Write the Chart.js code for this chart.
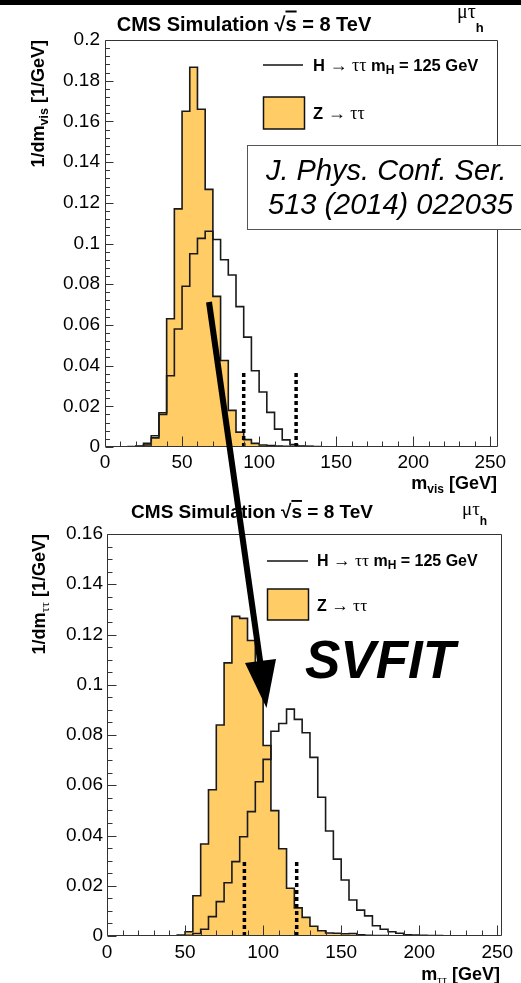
<!DOCTYPE html>
<html><head><meta charset="utf-8">
<script src="https://cdn.jsdelivr.net/npm/chart.js@4.4.1/dist/chart.umd.min.js"></script>
<style>
html,body{margin:0;padding:0;background:#fff;}
#wrap{position:relative;width:521px;height:983px;overflow:hidden;background:#fff;}
canvas{position:absolute;left:0;}
#c1{top:0;width:521px;height:500px;}
#c2{top:490px;width:521px;height:493px;}
#ov{position:absolute;left:0;top:0;}
</style></head><body>
<div id="wrap">
<canvas id="c1" width="521" height="500"></canvas>
<canvas id="c2" width="521" height="493"></canvas>
<svg id="ov" width="521" height="983" viewBox="0 0 521 983" font-family="Liberation Sans, Arial, sans-serif">
  <rect x="0" y="0" width="521" height="5" fill="#000"/>
  <!-- top panel header -->
  <text x="244" y="30.5" text-anchor="middle" font-size="20" font-weight="bold">CMS Simulation √<tspan style="text-decoration:overline">s</tspan> = 8 TeV</text>
  <text x="457" y="18"><tspan font-family="Liberation Serif, serif" font-size="20">μτ</tspan><tspan dy="13.5" font-size="13" font-weight="bold">h</tspan></text>
  <!-- top legend -->
  <line x1="263" y1="65" x2="303" y2="65" stroke="#111" stroke-width="1.5"/>
  <text x="313" y="70.5" font-size="16.5" font-weight="bold">H <tspan font-family="Liberation Serif, serif" font-weight="normal" font-size="18">→ ττ</tspan> m<tspan font-size="12" dy="3">H</tspan><tspan dy="-3"> = 125 GeV</tspan></text>
  <rect x="263.5" y="97" width="41" height="32" fill="#FFCC66" stroke="#111" stroke-width="1.5"/>
  <text x="313" y="118.5" font-size="16.5" font-weight="bold">Z <tspan font-family="Liberation Serif, serif" font-weight="normal" font-size="18">→ ττ</tspan></text>
  <!-- top axis titles -->
  <text transform="translate(44,40) rotate(-90)" text-anchor="end" font-size="18" font-weight="bold">1/dm<tspan font-size="12.5" dy="3.5">vis</tspan><tspan dy="-3.5"> [1/GeV]</tspan></text>
  <text x="497" y="489" text-anchor="end" font-size="18" font-weight="bold">m<tspan font-size="12" dy="4">vis</tspan><tspan dy="-4"> [GeV]</tspan></text>
  <!-- reference box -->
  <rect x="247.5" y="145.5" width="290" height="84" fill="#fff" stroke="#555" stroke-width="1"/>
  <text x="266" y="180" font-size="29" font-style="italic">J. Phys. Conf. Ser.</text>
  <text x="268" y="214" font-size="29" font-style="italic">513 (2014) 022035</text>
  <!-- bottom panel header -->
  <text x="252" y="518" text-anchor="middle" font-size="19" font-weight="bold">CMS Simulation √<tspan style="text-decoration:overline">s</tspan> = 8 TeV</text>
  <text x="462" y="515"><tspan font-family="Liberation Serif, serif" font-size="19">μτ</tspan><tspan dy="10" font-size="12" font-weight="bold">h</tspan></text>
  <!-- bottom legend -->
  <line x1="267" y1="561" x2="308" y2="561" stroke="#111" stroke-width="1.5"/>
  <text x="317" y="566" font-size="16" font-weight="bold">H <tspan font-family="Liberation Serif, serif" font-weight="normal" font-size="17.5">→ ττ</tspan> m<tspan font-size="12" dy="3">H</tspan><tspan dy="-3"> = 125 GeV</tspan></text>
  <rect x="267.5" y="589" width="41" height="31" fill="#FFCC66" stroke="#111" stroke-width="1.5"/>
  <text x="317" y="610.5" font-size="16" font-weight="bold">Z <tspan font-family="Liberation Serif, serif" font-weight="normal" font-size="17.5">→ ττ</tspan></text>
  <!-- bottom axis titles -->
  <text transform="translate(45,534) rotate(-90)" text-anchor="end" font-size="18" font-weight="bold">1/dm<tspan font-family="Liberation Serif, serif" font-weight="normal" font-size="13" dy="3.5">ττ</tspan><tspan dy="-3.5"> [1/GeV]</tspan></text>
  <text x="500" y="980" text-anchor="end" font-size="18" font-weight="bold">m<tspan font-family="Liberation Serif, serif" font-weight="normal" font-size="12" dy="4">ττ</tspan><tspan dy="-4"> [GeV]</tspan></text>
  <!-- SVFIT -->
  <text x="305" y="678" font-size="53" font-weight="bold" font-style="italic">SVFIT</text>
  <!-- arrow -->
  <line x1="209" y1="302" x2="260.5" y2="664" stroke="#000" stroke-width="6"/>
  <polygon points="245,663 276,659 266.5,708" fill="#000"/>
</svg>
</div>
<script>
// ---------------- data ----------------
// top panel: visible mass, 5 GeV bins (lower edges + final upper edge)
const mvisEdges = [15,20,25,30,35,40,45,50,55,60,65,70,75,80,85,90,95,100,105,110,115,120,125,130,135,140,145];
const mvisZtt = [0.0002,0.0005,0.0018,0.0045,0.0168,0.063,0.117,0.165,0.1866,0.166,0.1266,0.074,0.0425,0.018,0.0073,0.0036,0.0018,0.0010,0.0007,0.0005,0.0004,0.0003,0.0002,0.0002,0.0001,0.0001];
const mvisHtt = [0,0.0002,0.001,0.0055,0.016,0.035,0.058,0.079,0.095,0.1025,0.106,0.102,0.092,0.0845,0.069,0.054,0.0375,0.027,0.017,0.0088,0.0035,0.0012,0.0005,0.0003,0.0002,0.0001];
const mvisMarkers = [90, 124];
const mvisMarkerHeight = 0.0375;

// bottom panel: SVFit mass, 5 GeV bins
const mttEdges = [40,45,50,55,60,65,70,75,80,85,90,95,100,105,110,115,120,125,130,135,140,145,150,155,160,165,170,175,180,185,190,195,200,205,210,215,220];
const mttZtt = [0.0001,0.0004,0.0017,0.016,0.0366,0.0582,0.084,0.1087,0.1272,0.1264,0.1176,0.104,0.0758,0.0499,0.0347,0.019,0.0112,0.0074,0.0039,0.0021,0.0012,0.0011,0.0009,0.001,0.0005,0.0003,0.0002,0.0002,0.0001,0.0001,0.0001,0,0,0,0,0];
const mttHtt = [0,0.0001,0.0003,0.001,0.0027,0.0077,0.0137,0.0212,0.0296,0.0395,0.0495,0.0614,0.0703,0.0815,0.0846,0.0903,0.0862,0.0809,0.0711,0.0552,0.0418,0.0306,0.0223,0.0143,0.0103,0.008,0.0041,0.0027,0.0017,0.0011,0.0005,0.0004,0.0003,0.0002,0.0002,0.0001];
const mttMarkers = [88, 121.5];
const mttMarkerHeight = 0.0296;

// axes
const xTickValues = [0,50,100,150,200,250];
const xTickLabels = ['0','50','100','150','200','250'];
const yTickValuesTop = [0,0.02,0.04,0.06,0.08,0.1,0.12,0.14,0.16,0.18,0.2];
const yTickLabelsTop = ['0','0.02','0.04','0.06','0.08','0.1','0.12','0.14','0.16','0.18','0.2'];
const yTickValuesBot = [0,0.02,0.04,0.06,0.08,0.1,0.12,0.14,0.16];
const yTickLabelsBot = ['0','0.02','0.04','0.06','0.08','0.1','0.12','0.14','0.16'];

// --------------- helpers ---------------
function stepPoints(edges, vals){
  const pts = [{x: edges[0], y: 0}];
  for (let i = 0; i < vals.length; i++) pts.push({x: edges[i], y: vals[i]});
  const last = edges[vals.length];
  pts.push({x: last, y: vals[vals.length - 1]});
  pts.push({x: last, y: 0});
  return pts;
}
function minorList(max, step){
  const out = [];
  for (let v = step; v < max - 1e-9; v += step) out.push(+v.toFixed(6));
  return out;
}

const frameTicks = {
  id: 'frameTicks',
  afterDatasetsDraw(chart, args, o){
    const {ctx, chartArea: a, scales} = chart;
    const x = scales.x, y = scales.y;
    ctx.save();
    ctx.strokeStyle = '#333';
    ctx.lineWidth = 1;
    ctx.beginPath();
    const L = Math.round(a.left) + 0.5, R = Math.round(a.right) - 0.5, T = Math.round(a.top) + 0.5, B = Math.round(a.bottom) - 0.5;
    ctx.rect(L, T, R - L, B - T);
    ctx.stroke();
    ctx.beginPath();
    const xt = (vals, len) => vals.forEach(v => { const p = Math.round(x.getPixelForValue(v)) + 0.5; ctx.moveTo(p, B); ctx.lineTo(p, B - len); });
    const yt = (vals, len) => vals.forEach(v => { const p = Math.round(y.getPixelForValue(v)) + 0.5; ctx.moveTo(L, p); ctx.lineTo(L + len, p); });
    xt(o.xMajor, o.xMajorLen); xt(o.xMinor, o.xMinorLen);
    yt(o.yMajor, o.yMajorLen); yt(o.yMinor, o.yMinorLen);
    ctx.stroke();
    ctx.restore();
  }
};

Chart.defaults.font.family = 'Liberation Sans, Arial, sans-serif';
Chart.defaults.color = '#000';

function makePanel(id, cfg){
  const line = '#1a1a1a';
  const datasets = [
    {label: 'H → ττ', data: stepPoints(cfg.edges, cfg.htt), stepped: true, borderColor: line, borderWidth: 1.6, fill: false, pointRadius: 0, order: 1},
    {label: 'Z → ττ', data: stepPoints(cfg.edges, cfg.ztt), stepped: true, borderColor: line, borderWidth: 1.6, backgroundColor: '#FFCC66', fill: 'origin', pointRadius: 0, order: 2}
  ];
  cfg.markers.forEach(m => datasets.push({label: 'marker', data: [{x: m, y: 0}, {x: m, y: cfg.markerH}], borderColor: '#000', borderWidth: 3.5, borderDash: [4, 3], borderCapStyle: 'butt', fill: false, pointRadius: 0, order: 0}));
  return new Chart(document.getElementById(id), {
    type: 'line',
    data: {datasets},
    options: {
      responsive: false, animation: false, devicePixelRatio: 1,
      layout: {padding: {left: 0, right: cfg.padRight, top: cfg.padTop, bottom: 0}},
      plugins: {
        legend: {display: false}, tooltip: {enabled: false},
        frameTicks: {xMajor: xTickValues, xMinor: minorList(cfg.xMax, 10).filter(v => v % 50 !== 0),
          yMajor: cfg.yVals, yMinor: minorList(cfg.yMax, cfg.yMinorStep).filter(v => Math.abs(v / 0.02 - Math.round(v / 0.02)) > 1e-6),
          xMajorLen: 10, xMinorLen: 5, yMajorLen: cfg.yMajLen, yMinorLen: cfg.yMinLen}
      },
      scales: {
        x: {type: 'linear', min: 0, max: cfg.xMax,
          grid: {display: false, drawTicks: false}, border: {display: false},
          ticks: {autoSkip: false, maxRotation: 0, minRotation: 0, padding: cfg.xPad, font: {size: 19}, color: '#000', callback: (v, i) => xTickLabels[i]},
          afterBuildTicks: s => { s.ticks = xTickValues.map(v => ({value: v})); },
          afterFit: s => { s.height = cfg.xAxisH; s.paddingLeft = 0; s.paddingRight = 0; }
        },
        y: {type: 'linear', min: 0, max: cfg.yMax,
          grid: {display: false, drawTicks: false}, border: {display: false},
          ticks: {autoSkip: false, padding: cfg.yPad, font: {size: 19}, color: '#000', callback: (v, i) => cfg.yLabels[i]},
          afterBuildTicks: s => { s.ticks = cfg.yVals.map(v => ({value: v})); },
          afterFit: s => { s.width = cfg.yAxisW; s.paddingTop = 0; s.paddingBottom = 0; }
        }
      }
    },
    plugins: [frameTicks]
  });
}

makePanel('c1', {edges: mvisEdges, ztt: mvisZtt, htt: mvisHtt, markers: mvisMarkers, markerH: mvisMarkerHeight,
  xMax: 255, yMax: 0.2, yVals: yTickValuesTop, yLabels: yTickLabelsTop, yMinorStep: 0.004,
  padRight: 23, padTop: 40, xAxisH: 53, yAxisW: 105, xPad: 4, yPad: 5, yMajLen: 8, yMinLen: 4.5});
makePanel('c2', {edges: mttEdges, ztt: mttZtt, htt: mttHtt, markers: mttMarkers, markerH: mttMarkerHeight,
  xMax: 253, yMax: 0.16, yVals: yTickValuesBot, yLabels: yTickLabelsBot, yMinorStep: 0.005,
  padRight: 19, padTop: 44, xAxisH: 47, yAxisW: 107, xPad: 5, yPad: 4, yMajLen: 9, yMinLen: 5});
</script>
</body></html>
